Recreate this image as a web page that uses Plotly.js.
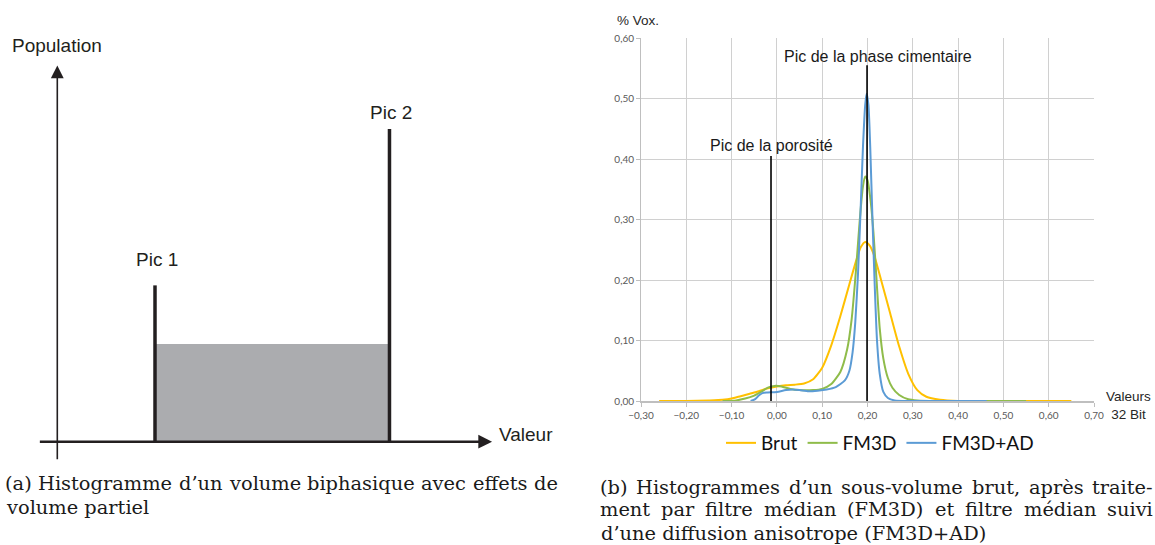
<!DOCTYPE html>
<html>
<head>
<meta charset="utf-8">
<script src="https://cdn.plot.ly/plotly-3.0.1.min.js"></script>
<style>html,body{margin:0;padding:0;background:#fff;}#chart{width:1155px;height:545px;}</style>
</head>
<body>
<div id="chart"></div>
<script>
// ---------- Panel (a): schematic histogram ----------
const schemaPeakX = [1.0, 3.4];          // Pic 1, Pic 2 positions (Valeur)
const schemaPeakH = [1.6, 3.2];          // peak heights (Population)
const schemaPeakLabels = ['Pic 1', 'Pic 2'];
const schemaPlateau = 1.0;               // partial-volume plateau height

// ---------- Panel (b): measured histograms ----------
const brutX = [-0.26,-0.20,-0.15,-0.12,-0.10,-0.08,-0.06,-0.04,-0.02,0.00,0.02,0.04,0.06,0.08,0.10,0.12,0.14,0.16,0.175,0.185,0.195,0.205,0.215,0.23,0.25,0.27,0.29,0.31,0.33,0.36,0.40,0.50,0.65];
const brutY = [0,0,0.001,0.002,0.004,0.008,0.012,0.016,0.021,0.024,0.026,0.027,0.029,0.036,0.055,0.092,0.140,0.193,0.232,0.254,0.263,0.257,0.240,0.200,0.145,0.090,0.045,0.018,0.007,0.002,0,0,0];

const fm3dX = [-0.12,-0.09,-0.07,-0.05,-0.035,-0.02,-0.005,0.01,0.03,0.05,0.08,0.10,0.12,0.14,0.155,0.165,0.175,0.183,0.19,0.195,0.20,0.207,0.213,0.22,0.227,0.235,0.245,0.255,0.27,0.29,0.31,0.35,0.55];
const fm3dY = [0,0.001,0.004,0.009,0.015,0.022,0.025,0.024,0.020,0.018,0.018,0.020,0.028,0.048,0.085,0.135,0.220,0.300,0.355,0.371,0.365,0.330,0.280,0.200,0.120,0.070,0.038,0.022,0.010,0.003,0.001,0,0];

const fm3dAdX = [-0.058,-0.048,-0.04,-0.032,-0.02,0.00,0.02,0.035,0.05,0.07,0.09,0.11,0.13,0.15,0.16,0.167,0.173,0.179,0.185,0.19,0.195,0.198,0.202,0.206,0.211,0.216,0.221,0.227,0.235,0.245,0.26,0.29,0.463];
const fm3dAdY = [0,0.003,0.009,0.013,0.014,0.015,0.018,0.019,0.018,0.016,0.017,0.019,0.023,0.034,0.050,0.080,0.130,0.210,0.320,0.420,0.490,0.508,0.490,0.420,0.300,0.190,0.100,0.045,0.015,0.005,0.001,0,0];

const seriesNames = ['Brut', 'FM3D', 'FM3D+AD'];
const seriesColors = ['#FFC000', '#8FBC4A', '#5B9BD5'];
const xTicks = [-0.30,-0.20,-0.10,0.00,0.10,0.20,0.30,0.40,0.50,0.60,0.70];
const yTicks = [0.00,0.10,0.20,0.30,0.40,0.50,0.60];

const peakMarkX = [-0.013, 0.199];       // porosity peak, cement-phase peak
const peakMarkTop = [0.405, 0.555];
const peakMarkLabels = ['Pic de la porosité', 'Pic de la phase cimentaire'];

const W = 1155, H = 545;
const px = v => v / W, py = v => (H - v) / H;

const traces = [];
// panel (a) plateau
traces.push({
  x: [schemaPeakX[0], schemaPeakX[1], schemaPeakX[1], schemaPeakX[0]],
  y: [0, 0, schemaPlateau, schemaPlateau],
  xaxis: 'x2', yaxis: 'y2', mode: 'lines', fill: 'toself',
  fillcolor: '#ABACAF', line: {width: 0, color: '#ABACAF'},
  showlegend: false, hoverinfo: 'skip'
});
schemaPeakX.forEach((xv, i) => {
  traces.push({
    x: [xv, xv], y: [0, schemaPeakH[i]], xaxis: 'x2', yaxis: 'y2',
    mode: 'lines', line: {width: 3.5, color: '#231F20'},
    showlegend: false, hoverinfo: 'skip'
  });
});
// panel (b) curves
[[brutX, brutY], [fm3dX, fm3dY], [fm3dAdX, fm3dAdY]].forEach((s, i) => {
  traces.push({
    x: s[0], y: s[1], name: seriesNames[i], mode: 'lines',
    line: {color: seriesColors[i], width: 2, shape: 'spline', smoothing: 0.6},
    xaxis: 'x', yaxis: 'y'
  });
});

const ann = [];
// panel (a) axes arrows
ann.push({xref: 'x2', yref: 'y2', axref: 'x2', ayref: 'y2', x: 4.45, y: 0, ax: -0.194, ay: 0,
  text: '', showarrow: true, arrowhead: 2, arrowsize: 1.1, arrowwidth: 2.5, arrowcolor: '#231F20', standoff: 0});
ann.push({xref: 'x2', yref: 'y2', axref: 'x2', ayref: 'y2', x: 0, y: 3.85, ax: 0, ay: -0.194,
  text: '', showarrow: true, arrowhead: 2, arrowsize: 1.6, arrowwidth: 1.6, arrowcolor: '#231F20', standoff: 0});
const fA = {family: 'Liberation Sans, Arial, sans-serif', size: 19, color: '#231F20'};
ann.push({xref: 'x2', yref: 'y2', x: 0, y: 4.06, text: 'Population', showarrow: false, font: fA, xanchor: 'center', yanchor: 'middle'});
ann.push({xref: 'x2', yref: 'y2', x: 4.50, y: 0.07, text: 'Valeur', showarrow: false, font: fA, xanchor: 'left', yanchor: 'middle'});
const picLabelY = [1.87, 3.365];
schemaPeakX.forEach((xv, i) => {
  ann.push({xref: 'x2', yref: 'y2', x: xv + 0.02, y: picLabelY[i], text: schemaPeakLabels[i], showarrow: false, font: fA, xanchor: 'center', yanchor: 'middle'});
});

// panel (b) labels
const fB = {family: 'Liberation Sans, Arial, sans-serif', size: 16, color: '#1a1a1a'};
ann.push({xref: 'x', yref: 'y', x: -0.012, y: 0.423, text: peakMarkLabels[0], showarrow: false, font: fB, xanchor: 'center', yanchor: 'middle'});
ann.push({xref: 'x', yref: 'y', x: 0.224, y: 0.570, text: peakMarkLabels[1], showarrow: false, font: fB, xanchor: 'center', yanchor: 'middle'});
const fS = {family: 'Liberation Sans, Arial, sans-serif', size: 13.5, color: '#262626'};
ann.push({xref: 'paper', yref: 'paper', x: px(638), y: py(20), text: '% Vox.', showarrow: false, font: fS, xanchor: 'center', yanchor: 'middle'});
ann.push({xref: 'paper', yref: 'paper', x: px(1128), y: py(405), text: 'Valeurs<br>32 Bit', showarrow: false, font: fS, xanchor: 'center', yanchor: 'middle', align: 'center'});

// captions (justified like the LaTeX source)
const capFamily = 'DejaVu Serif';
const capSize = 19.4;
const fC = {family: capFamily + ', Liberation Serif, serif', size: capSize, color: '#1a1a1a'};
const ctx = document.createElement('canvas').getContext('2d');
ctx.font = capSize + 'px "' + capFamily + '"';
function addLine(text, x0, x1, yc, justify) {
  if (!justify) {
    ann.push({xref: 'paper', yref: 'paper', x: px(x0), y: py(yc), text: text, showarrow: false, font: fC, xanchor: 'left', yanchor: 'middle'});
    return;
  }
  const words = text.split(' ');
  const widths = words.map(w => ctx.measureText(w).width);
  const total = widths.reduce((a, b) => a + b, 0);
  const gap = (x1 - x0 - total) / (words.length - 1);
  let x = x0;
  words.forEach((w, i) => {
    ann.push({xref: 'paper', yref: 'paper', x: px(x), y: py(yc), text: w, showarrow: false, font: fC, xanchor: 'left', yanchor: 'middle', borderpad: 0});
    x += widths[i] + gap;
  });
}
const capA = ['(a) Histogramme d’un volume biphasique avec effets de', 'volume partiel'];
const capB = ['(b) Histogrammes d’un sous-volume brut, après traite-', 'ment par filtre médian (FM3D) et filtre médian suivi', 'd’une diffusion anisotrope (FM3D+AD)'];
const capAY = [483, 507], capBY = [487, 510, 533];
addLine(capA[0], 4, 557, capAY[0], true);
addLine(capA[1], 4, 557, capAY[1], false);
addLine(capB[0], 599, 1152, capBY[0], true);
addLine(capB[1], 599, 1152, capBY[1], true);
addLine(capB[2], 599, 1152, capBY[2], false);

const shapes = peakMarkX.map((xv, i) => ({
  type: 'line', xref: 'x', yref: 'y', x0: xv, x1: xv, y0: 0, y1: peakMarkTop[i],
  line: {color: '#000', width: 1.6}, layer: 'above'
}));

const unitA = 97.7;
const layout = {
  width: W, height: H,
  margin: {l: 0, r: 0, t: 0, b: 0},
  paper_bgcolor: '#fff', plot_bgcolor: '#fff',
  separators: ', ',
  showlegend: true,
  legend: {orientation: 'h', x: px(880), y: py(443), xanchor: 'center', yanchor: 'middle',
    font: {family: 'Lato, Liberation Sans, sans-serif', size: 19, color: '#111'},
    bgcolor: 'rgba(0,0,0,0)', itemwidth: 30, tracegroupgap: 0},
  xaxis: {domain: [px(641), px(1094)], range: [-0.30, 0.70], tickvals: xTicks, tickformat: '.2f',
    showgrid: true, gridcolor: '#d0d0d0', gridwidth: 1, zeroline: false,
    showline: true, linecolor: '#bfbfbf', linewidth: 1.5,
    ticks: 'outside', ticklen: 4, tickcolor: '#bfbfbf',
    tickfont: {family: 'Lato, Liberation Sans, sans-serif', size: 10, color: '#595959'},
    anchor: 'y', fixedrange: true},
  yaxis: {domain: [py(401), py(38)], range: [0, 0.60], tickvals: yTicks, tickformat: '.2f',
    showgrid: true, gridcolor: '#d0d0d0', gridwidth: 1, zeroline: false,
    showline: true, linecolor: '#bfbfbf', linewidth: 1,
    ticks: 'outside', ticklen: 4, tickcolor: '#bfbfbf',
    tickfont: {family: 'Lato, Liberation Sans, sans-serif', size: 10, color: '#595959'},
    anchor: 'x', fixedrange: true},
  xaxis2: {domain: [0, 0.5], range: [-57.3 / unitA, (577.5 - 57.3) / unitA], visible: false, anchor: 'y2', fixedrange: true},
  yaxis2: {domain: [0, 1], range: [-(545 - 441.7) / unitA, 441.7 / unitA], visible: false, anchor: 'x2', fixedrange: true},
  annotations: ann,
  shapes: shapes
};

Plotly.newPlot('chart', traces, layout, {displayModeBar: false, staticPlot: true});
</script>
</body>
</html>
